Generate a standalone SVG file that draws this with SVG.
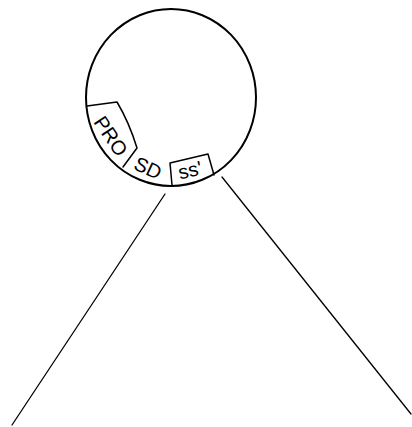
<svg xmlns="http://www.w3.org/2000/svg" width="412" height="427" viewBox="0 0 412 427">
<style>
.s{fill:none;stroke:#000;stroke-linecap:round;stroke-linejoin:round}
.t{font-family:"Liberation Sans",Arial,sans-serif;font-size:20px;fill:#000}
</style>
<rect width="412" height="427" fill="#fff"/>
<g id="plasmid">
<ellipse class="s" cx="171" cy="97.5" rx="85" ry="88.5" stroke-width="2"/>
</g>
<g id="pro">
<path class="s" stroke-width="1.5" d="M87,106 L117,102 Q129,122 137,148 L123,167"/>
<text class="t" transform="translate(111,136) rotate(56)" text-anchor="middle" dominant-baseline="central">PRO</text>
</g>
<g id="sd">
<text class="t" transform="translate(148,168) rotate(25)" text-anchor="middle" dominant-baseline="central">SD</text>
</g>
<g id="ss">
<path class="s" stroke-width="1.5" d="M172,185 L170,163 L208,154 L214,175"/>
<text class="t" transform="translate(190,170) rotate(-13)" text-anchor="middle" dominant-baseline="central">ss'</text>
</g>
<g id="connectors">
<line class="s" stroke-width="1.3" x1="165" y1="194" x2="12" y2="425"/>
<line class="s" stroke-width="1.3" x1="222" y1="177" x2="411" y2="414"/>
</g>
</svg>
